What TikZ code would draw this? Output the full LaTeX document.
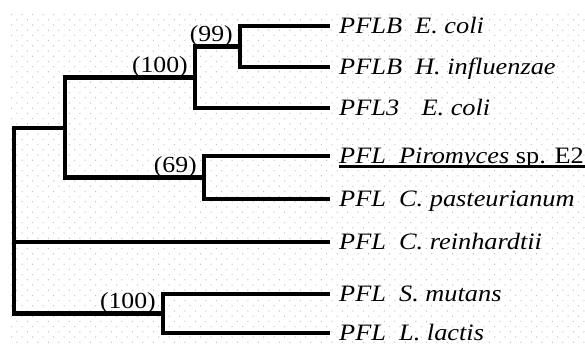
\documentclass[tikz,border=0pt]{standalone}
\usepackage{fontspec}
\setmainfont{Liberation Serif}
\newcommand{\wide}[1]{\scalebox{1.12}[1]{#1}}
\begin{document}
\begin{tikzpicture}
  [x=1pt, y=-1pt,
   branch/.style={line width=4.2pt, line join=miter, line cap=rect},
   taxon/.style={anchor=west, inner xsep=11pt, inner ysep=0pt,
                 text height=15.5pt, text depth=0pt,
                 font=\fontsize{23.5}{25}\selectfont},
   support/.style={anchor=base east, inner sep=0pt, xshift=-7pt, yshift=5pt,
                   font=\fontsize{23}{25}\selectfont}]
  \useasboundingbox (0,0) rectangle (585,345);
  % dotted paper
  \fill[gray!45] \foreach \j in {0,...,63} {\foreach \i in {0,...,54}
    {({11+10.5*\i+5.25*mod(\j,2)}, {14+5.2*\j}) rectangle ++(1.2,1.2)}};
  % taxa
  \node[taxon] (ecoli)  at (328,26)  {\wide{\textit{PFLB\hspace{0.5em}E. coli}}};
  \node[taxon] (hinf)   at (328,67)  {\wide{\textit{PFLB\hspace{0.5em}H. influenzae}}};
  \node[taxon] (ecoli3) at (328,108) {\wide{\textit{PFL3\hspace{0.85em}E. coli}}};
  \node[taxon] (pir)    at (328,156) {\wide{\textit{PFL\hspace{0.5em}Piromyces} sp. E2}};
  \node[taxon] (cpast)  at (328,199) {\wide{\textit{PFL\hspace{0.5em}C. pasteurianum}}};
  \node[taxon] (crein)  at (328,242) {\wide{\textit{PFL\hspace{0.5em}C. reinhardtii}}};
  \node[taxon] (smut)   at (328,294) {\wide{\textit{PFL\hspace{0.5em}S. mutans}}};
  \node[taxon] (llac)   at (328,333) {\wide{\textit{PFL\hspace{0.5em}L. lactis}}};
  \draw[line width=2.4pt] ([xshift=11pt,yshift=-2.5pt]pir.south west)
    -- ([yshift=-2.5pt]pir.south east);
  % inner nodes
  \coordinate (c) at (240,46.5);
  \coordinate (b) at (195,77.5);
  \coordinate (a) at (65,128);
  \coordinate (d) at (204,177.5);
  \coordinate (e) at (163,313.5);
  \coordinate (r) at (14,220);
  % branches
  \draw[branch] (ecoli.west) -| (c) |- (hinf.west);
  \draw[branch] (c) -| (b) |- (ecoli3.west);
  \draw[branch] (b) -| (a) |- (d);
  \draw[branch] (pir.west) -| (d) |- (cpast.west);
  \draw[branch] (a) -| (r) |- (e);
  \draw[branch] (r |- crein.west) -- (crein.west);
  \draw[branch] (smut.west) -| (e) |- (llac.west);
  % bootstrap values
  \node[support] at (c) {\wide{(99)}};
  \node[support] at (b) {\wide{(100)}};
  \node[support] at (d) {\wide{(69)}};
  \node[support] at (e) {\wide{(100)}};
\end{tikzpicture}
\end{document}
